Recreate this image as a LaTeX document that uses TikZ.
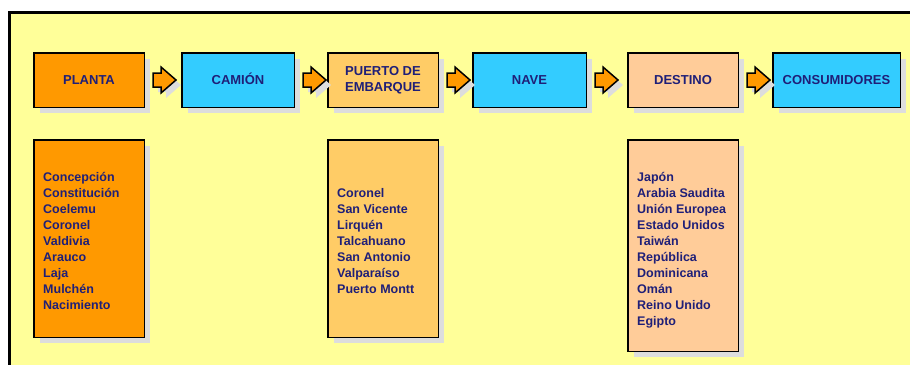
\documentclass[tikz,border=0pt]{standalone}
\usepackage{fontspec}
\setmainfont{Liberation Sans}
\usetikzlibrary{calc,shadows}
\definecolor{bgyellow}{HTML}{FFFF99}
\definecolor{orangeA}{HTML}{FF9900}
\definecolor{cyanA}{HTML}{33CCFF}
\definecolor{goldA}{HTML}{FFCC66}
\definecolor{peachA}{HTML}{FFCC99}
\definecolor{shadowgray}{HTML}{DDDDDD}
\definecolor{navytext}{HTML}{1F1F78}
\tikzset{
  shad/.style={drop shadow={shadow xshift=6pt, shadow yshift=-6pt, fill=shadowgray, opacity=1}},
  box/.style={draw=black, line width=1.5pt, rectangle, inner sep=0pt, shad,
    minimum height=54.5pt, text=navytext, font=\fontsize{13}{16}\selectfont\bfseries},
  oneline/.style={text height=9.3pt, text depth=0pt},
  listbox/.style={draw=black, line width=1.5pt, rectangle, inner sep=0pt, shad},
  listtext/.style={anchor=base west, inner sep=0pt, text=navytext,
    font=\fontsize{12.5}{16}\selectfont\bfseries},
  blockarr/.style={draw=black, line width=1.5pt, fill=orangeA, line join=miter,
    drop shadow={shadow xshift=5pt, shadow yshift=-5pt, fill=shadowgray, opacity=1}}
}
\begin{document}
\begin{tikzpicture}[x=1pt,y=-1pt]
\clip (0,0) rectangle (910,364);
\fill[white] (0,0) rectangle (910,364);
\draw[line width=3pt, fill=bgyellow] (9.5,12.5) rectangle (940,390);

% top row
\node[box, oneline, fill=orangeA, minimum width=110.5pt] (planta) at (89,80) {PLANTA};
\node[box, oneline, fill=cyanA, minimum width=112.5pt] (camion) at (238,80) {CAMIÓN};
\node[box, align=center, fill=goldA, minimum width=110.5pt] (puerto) at (383,80) {PUERTO DE\\EMBARQUE};
\node[box, oneline, fill=cyanA, minimum width=113.5pt] (nave) at (529.5,80) {NAVE};
\node[box, oneline, fill=peachA, minimum width=110.5pt] (destino) at (683,80) {DESTINO};
\node[box, oneline, fill=cyanA, minimum width=127.5pt] (consum) at (836.5,80) {CONSUMIDORES};

\foreach \a/\b in {planta/camion, camion/puerto, puerto/nave, nave/destino, destino/consum}{
  \draw[blockarr] ($(\a.east)+(8,-7)$) -- ++(8,0) -- ++(0,-6) -- ++(15,13) -- ++(-15,13) -- ++(0,-6) -- ++(-8,0) -- cycle;
}

% lists
\node[listbox, fill=orangeA, minimum width=110.5pt, minimum height=197.5pt] (plantalist) at (89,238.5) {};
\node[listbox, fill=goldA, minimum width=110.5pt, minimum height=197.5pt] (puertolist) at (383,238.5) {};
\node[listbox, fill=peachA, minimum width=110.5pt, minimum height=211.5pt] (destinolist) at (683,245.5) {};

\node[listtext] (plantatext) at (43,181) {\begin{tabular}[t]{@{}l@{}}Concepción\\Constitución\\Coelemu\\Coronel\\Valdivia\\Arauco\\Laja\\Mulchén\\Nacimiento\end{tabular}};
\node[listtext] (puertotext) at (337,197) {\begin{tabular}[t]{@{}l@{}}Coronel\\San Vicente\\Lirquén\\Talcahuano\\San Antonio\\Valparaíso\\Puerto Montt\end{tabular}};
\node[listtext] (destinotext) at (637,181) {\begin{tabular}[t]{@{}l@{}}Japón\\Arabia Saudita\\Unión Europea\\Estado Unidos\\Taiwán\\República\\Dominicana\\Omán\\Reino Unido\\Egipto\end{tabular}};
\end{tikzpicture}
\end{document}
